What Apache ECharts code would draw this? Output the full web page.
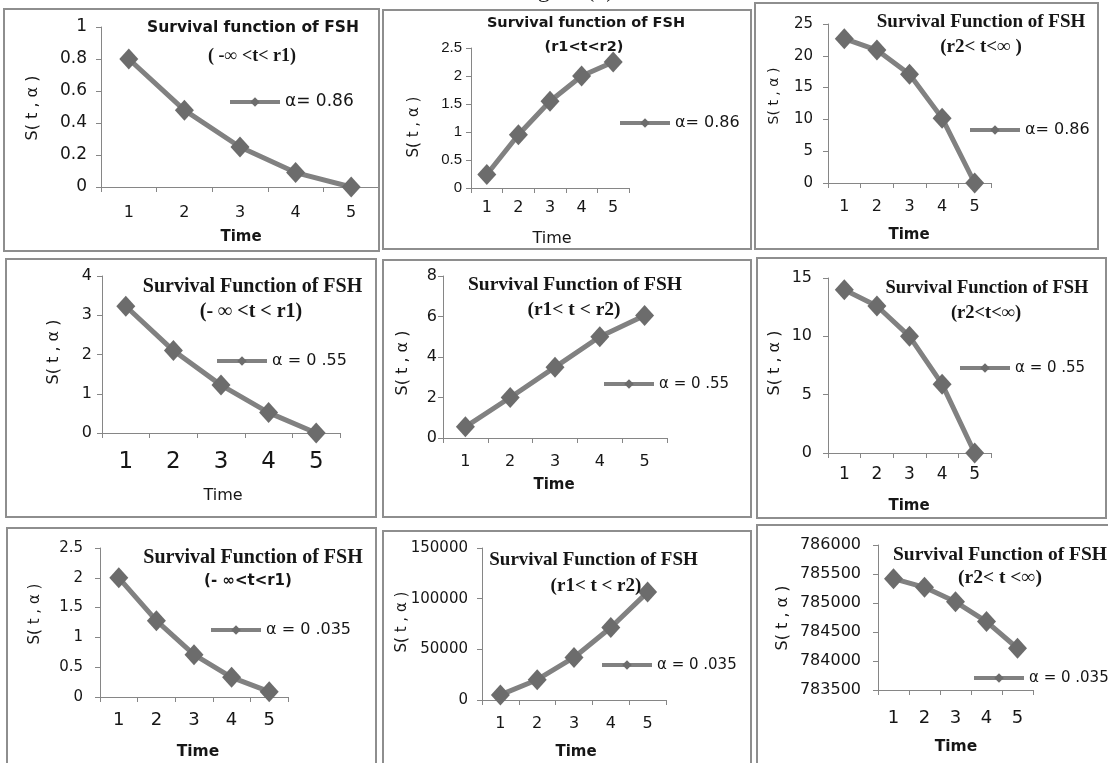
<!DOCTYPE html>
<html>
<head>
<meta charset="utf-8">
<script src="https://cdn.jsdelivr.net/npm/echarts@6/dist/echarts.min.js"></script>
<style>
  html, body { margin: 0; padding: 0; background: #fff; }
  #chart { width: 1108px; height: 763px; }
</style>
</head>
<body>
<div id="chart"></div>
<script>
// Time points shared by every panel
const times = ['1', '2', '3', '4', '5'];

// Survival function S(t, α) for α = 0.86
const s086Left  = [0.8, 0.48, 0.25, 0.09, 0.0];
const s086Mid   = [0.24, 0.95, 1.55, 2.0, 2.25];
const s086Right = [22.7, 20.9, 17.1, 10.2, 0];

// Survival function S(t, α) for α = 0.55
const s055Left  = [3.23, 2.1, 1.22, 0.52, 0.0];
const s055Mid   = [0.55, 2.0, 3.5, 5.0, 6.05];
const s055Right = [14.0, 12.6, 10.0, 5.9, 0];

// Survival function S(t, α) for α = 0.035
const s0035Left  = [2.0, 1.28, 0.71, 0.33, 0.09];
const s0035Mid   = [5000, 20000, 42000, 71500, 106500];
const s0035Right = [785420, 785270, 785020, 784680, 784220];

// Legend names
const alpha086 = 'α= 0.86';
const alpha055 = 'α = 0 .55';
const alpha0035 = 'α = 0 .035';

// Y tick ranges [min, max, step]
const yRange086  = [[0, 1, 0.2], [0, 2.5, 0.5], [0, 25, 5]];
const yRange055  = [[0, 4, 1], [0, 8, 2], [0, 15, 5]];
const yRange0035 = [[0, 2.5, 0.5], [0, 150000, 50000], [783500, 786000, 500]];

// Panel titles
const titleMain = ['Survival function of FSH', 'Survival Function of FSH'];
const intervals = [
  '( -∞ <t< r1)', '(r1<t<r2)', '(r2< t<∞ )',
  '(- ∞ <t < r1)', '(r1< t < r2)', '(r2<t<∞)',
  '(- ∞<t<r1)', '(r1< t < r2)', '(r2< t <∞)'
];
const yName = 'S( t , α )';
const xName = 'Time';
const caption = 'Figure (1)';

const SANS = '"DejaVu Sans"';
const SERIF = '"Liberation Serif"';
const INK = '#161616';
const AXIS = '#868686';
const LINE = '#818181';
const MARK = '#6c6c6c';

// Layout of the nine panels (pixel geometry, fonts)
const panels = [
  { data: s086Left, name: alpha086, range: yRange086[0],
    box: [4, 9, 379, 251], grid: [101, 27, 278, 160],
    yl: [17, 14], xl: [16, 18], leg: [228, 102, 17],
    yn: [33, 108, 16], tn: [241, 237, 15, true],
    t1: [253, 27.5, 'bold 15.5px ' + SANS, titleMain[0]], t2: [252, 56, 'bold 18px ' + SERIF] },
  { data: s086Mid, name: alpha086, range: yRange086[1],
    box: [383, 10, 751, 249], grid: [471, 48, 158, 140],
    yl: [15, 9], xl: [16, 12], leg: [618, 123, 16],
    yn: [414, 127, 15], tn: [552, 239, 16, false],
    t1: [586, 23.5, 'bold 14.5px ' + SANS, titleMain[0]], t2: [584, 47.5, 'bold 14.5px ' + SANS] },
  { data: s086Right, name: alpha086, range: yRange086[2],
    box: [755, 3, 1098, 249], grid: [828, 24, 163, 159],
    yl: [15, 15], xl: [16, 16], leg: [968, 130, 16],
    yn: [774, 96, 14], tn: [909, 235, 15, true],
    t1: [981, 22, 'bold 19px ' + SERIF, titleMain[1]], t2: [981, 47.5, 'bold 19px ' + SERIF] },

  { data: s055Left, name: alpha055, range: yRange055[0],
    box: [6, 259, 376, 517], grid: [102, 276, 238, 157],
    yl: [16, 10], xl: [23, 18], leg: [215, 361, 16],
    yn: [54, 352, 16], tn: [223, 496, 16, false],
    t1: [252.5, 287, 'bold 20px ' + SERIF, titleMain[1]], t2: [251, 312, 'bold 20px ' + SERIF] },
  { data: s055Mid, name: alpha055, range: yRange055[1],
    box: [383, 260, 751, 517], grid: [443, 276, 224, 162],
    yl: [16, 6], xl: [16, 16], leg: [602, 384, 15],
    yn: [403, 363, 16], tn: [554, 485, 15, true],
    t1: [575, 285, 'bold 19.5px ' + SERIF, titleMain[1]], t2: [574, 310, 'bold 19.5px ' + SERIF] },
  { data: s055Right, name: alpha055, range: yRange055[2],
    box: [757, 258, 1106, 518], grid: [828, 278, 163, 175],
    yl: [16, 16], xl: [17, 13], leg: [958, 368, 15],
    yn: [775, 363, 16], tn: [909, 506, 15, true],
    t1: [987, 288.5, 'bold 18.5px ' + SERIF, titleMain[1]], t2: [986, 313, 'bold 18.5px ' + SERIF] },

  { data: s0035Left, name: alpha0035, range: yRange0035[0],
    box: [7, 528, 376, 775], grid: [100, 548, 188, 149],
    yl: [15, 17], xl: [18, 14], leg: [209, 630, 16],
    yn: [35, 614, 15], tn: [198, 752, 15.5, true],
    t1: [253, 558, 'bold 20px ' + SERIF, titleMain[1]], t2: [248, 581, 'bold 15px ' + SANS] },
  { data: s0035Mid, name: alpha0035, range: yRange0035[1],
    box: [383, 531, 751, 775], grid: [482, 548, 184, 152],
    yl: [15, 14], xl: [16, 16], leg: [600, 665, 15],
    yn: [402, 622, 15], tn: [576, 752, 15, true],
    t1: [593.5, 560, 'bold 19px ' + SERIF, titleMain[1]], t2: [596, 586, 'bold 19px ' + SERIF] },
  { data: s0035Right, name: alpha0035, range: yRange0035[2],
    box: [757, 525, 1115, 775], grid: [878, 545, 155, 145],
    yl: [16, 17], xl: [18, 19], leg: [972, 678, 15],
    yn: [783, 618, 16], tn: [956, 747, 15.5, true],
    t1: [1000, 555, 'bold 19.5px ' + SERIF, titleMain[1]], t2: [1000, 578, 'bold 19.5px ' + SERIF] }
];

function fmt(v) {
  return String(parseFloat(Number(v).toFixed(6)));
}

function text(x, y, str, font, rot) {
  return {
    type: 'text', x: x, y: y, rotation: rot || 0, silent: true, z: 10,
    style: { text: str, font: font, fill: INK, textAlign: 'center', textVerticalAlign: 'middle' }
  };
}

const grids = [], xAxes = [], yAxes = [], series = [], legends = [], graphics = [];

panels.forEach(function (p, i) {
  grids.push({
    left: p.grid[0], top: p.grid[1], width: p.grid[2], height: p.grid[3],
    containLabel: false, outerBoundsMode: 'none'
  });
  xAxes.push({
    type: 'category', gridIndex: i, data: times, boundaryGap: true,
    axisLine: { show: true, lineStyle: { color: AXIS, width: 1 } },
    axisTick: { show: true, length: 5, lineStyle: { color: AXIS } },
    axisLabel: { fontFamily: SANS, fontSize: p.xl[0], margin: p.xl[1], color: INK },
    splitLine: { show: false }
  });
  yAxes.push({
    type: 'value', gridIndex: i, min: p.range[0], max: p.range[1], interval: p.range[2],
    axisLine: { show: true, lineStyle: { color: AXIS, width: 1 } },
    axisTick: { show: true, length: 5, lineStyle: { color: AXIS } },
    axisLabel: {
      fontFamily: i === 1 ? '"Liberation Sans"' : SANS, fontSize: p.yl[0], margin: p.yl[1],
      color: INK, formatter: fmt
    },
    splitLine: { show: false }
  });
  series.push({
    type: 'line', name: p.name, xAxisIndex: i, yAxisIndex: i, data: p.data,
    symbol: 'diamond', symbolSize: [19, 21], showSymbol: true,
    lineStyle: { width: 5, color: LINE },
    itemStyle: { color: MARK },
    emphasis: { disabled: true }, silent: true, z: 3
  });
  legends.push({
    data: [p.name], left: p.leg[0], top: p.leg[1] - 10, padding: 0,
    itemWidth: 50, itemHeight: 12, itemGap: 0, selectedMode: false,
    textStyle: { fontFamily: SANS, fontSize: p.leg[2], color: INK, lineHeight: 20 },
    lineStyle: { width: 4, color: LINE }, itemStyle: { color: MARK }
  });

  // Panel frame
  graphics.push({
    type: 'rect', silent: true, z: 1,
    shape: { x: p.box[0], y: p.box[1], width: p.box[2] - p.box[0], height: p.box[3] - p.box[1] },
    style: { fill: null, stroke: '#8e8e8e', lineWidth: 2 }
  });
  // Titles
  graphics.push(text(p.t1[0], p.t1[1], p.t1[3], p.t1[2]));
  graphics.push(text(p.t2[0], p.t2[1], intervals[i], p.t2[2]));
  // Axis names
  graphics.push(text(p.yn[0], p.yn[1], yName, p.yn[2] + 'px ' + SANS, Math.PI / 2));
  graphics.push(text(p.tn[0], p.tn[1], xName, (p.tn[3] ? 'bold ' : '') + p.tn[2] + 'px ' + SANS));
});

// Caption above the panels
graphics.push({
  type: 'text', x: 566, y: 3, silent: true,
  style: { text: caption, font: '24px ' + SERIF, fill: INK, textAlign: 'center', textVerticalAlign: 'bottom' }
});

const chart = echarts.init(document.getElementById('chart'), null, { renderer: 'canvas' });
chart.setOption({
  backgroundColor: '#ffffff',
  animation: false,
  grid: grids,
  xAxis: xAxes,
  yAxis: yAxes,
  legend: legends,
  series: series,
  graphic: { elements: graphics }
});
</script>
</body>
</html>
